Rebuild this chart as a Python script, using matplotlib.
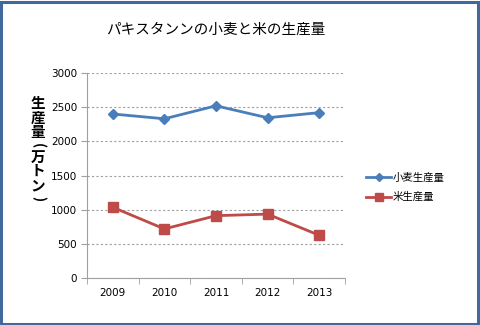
import matplotlib
matplotlib.use("Agg")
import matplotlib.pyplot as plt
from matplotlib.patches import Rectangle

plt.rcParams['font.family'] = ['Noto Sans CJK JP', 'DejaVu Sans']

years = ["2009", "2010", "2011", "2012", "2013"]
wheat = [2400, 2330, 2520, 2345, 2420]
rice = [1035, 718, 912, 935, 625]
yticks = [0, 500, 1000, 1500, 2000, 2500, 3000]
title = "パキスタンンの小麦と米の生産量"
ylabel_chars = "生産量(万トン)"
series_names = ["小麦生産量", "米生産量"]

W, H = 480, 325
fig = plt.figure(figsize=(W/100, H/100), dpi=100)
fig.patch.set_facecolor("white")
# outer blue frame
fig.patches.append(Rectangle((0.002, 0.003), 0.994, 0.992, transform=fig.transFigure,
                             fill=False, edgecolor="#41699B", linewidth=2.2))

ax = fig.add_axes([87/W, 1-278/H, (345-87)/W, (278-73)/H])
x = list(range(len(years)))
ax.plot(x, wheat, color="#4A7EBB", lw=2.0, marker="D", ms=5.5, label=series_names[0])
ax.plot(x, rice, color="#BE4B48", lw=2.0, marker="s", ms=7, label=series_names[1])
ax.set_xlim(-0.5, 4.5)
ax.set_ylim(0, 3000)
ax.set_yticks(yticks)
ax.set_yticklabels([str(v) for v in yticks], fontsize=7.5, family="DejaVu Sans")
ax.set_xticks(x)
ax.set_xticklabels(years, fontsize=7.5, family="DejaVu Sans")
ax.set_xticks([i - 0.5 for i in range(len(years) + 1)], minor=True)
ax.tick_params(axis="x", which="major", length=0, pad=7)
ax.tick_params(axis="x", which="minor", length=4, color="#A0A0A0", direction="out")
ax.tick_params(axis="y", length=4, color="#A0A0A0", pad=3)
for s in ["top", "right"]:
    ax.spines[s].set_visible(False)
for s in ["left", "bottom"]:
    ax.spines[s].set_color("#A0A0A0")
ax.grid(axis="y", linestyle=(0, (2, 2)), color="#A0A0A0", lw=0.8)
ax.set_axisbelow(True)

fig.text(216/W, 1-30/H, title, ha="center", va="center", fontsize=10.5)
# vertical stacked y-label
yy = 103
for ch in ylabel_chars:
    if ch in "()":
        fig.text(38/W, 1-(yy-1)/H, ch, ha="center", va="center", fontsize=10, rotation=-90, fontweight="bold")
        yy += 10
    else:
        fig.text(38/W, 1-yy/H, ch, ha="center", va="center", fontsize=10.5, fontweight="bold")
        yy += 14.5

leg = fig.legend(loc="upper left", bbox_to_anchor=(357/W, 1-163/H), frameon=False,
                 fontsize=7.5, handlelength=2.4, labelspacing=0.9, handletextpad=0.15,
                 markerscale=0.75)
fig.savefig("out.png", dpi=100)
